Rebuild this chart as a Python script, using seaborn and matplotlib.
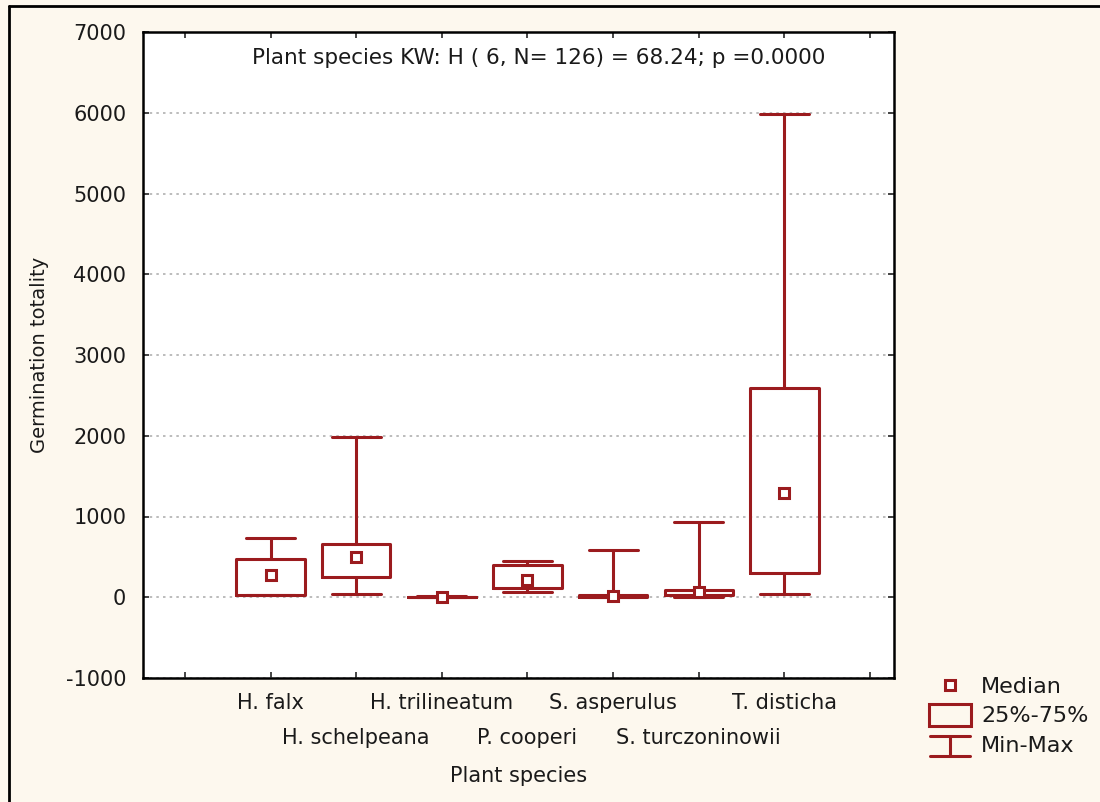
import numpy as np
import pandas as pd
import seaborn as sns
import matplotlib
matplotlib.use("Agg")
import matplotlib.pyplot as plt
from matplotlib.lines import Line2D
from matplotlib.patches import Rectangle
from matplotlib.legend_handler import HandlerBase
from matplotlib.ticker import FixedLocator, FixedFormatter

# ---- data: min, q1, median, q3, max ----
species = ["H. falx", "H. schelpeana", "H. trilineatum", "P. cooperi",
           "S. asperulus", "S. turczoninowii", "T. disticha"]
mins    = [30,   35,   0,   60,  0,   5,   35]
q1s     = [30,   245,  0,   110, 5,   25,  295]
medians = [270,  495,  0,   210, 15,  60,  1290]
q3s     = [470,  655,  5,   395, 30,  95,  2590]
maxs    = [730,  1980, 10,  445, 590, 930, 5985]
yticks = [-1000, 0, 1000, 2000, 3000, 4000, 5000, 6000, 7000]
title = "Plant species KW: H ( 6, N= 126) = 68.24; p =0.0000"
legend_labels = ["Median", "25%-75%", "Min-Max"]

rows = []
for s, a, b, c, d, e in zip(species, mins, q1s, medians, q3s, maxs):
    for v in (a, b, c, d, e):
        rows.append({"species": s, "value": v})
df = pd.DataFrame(rows)

RED = "#9b1b1e"
BG = "#fdf8ee"
TXT = "#1a1a1a"

sns.set_style("white")
plt.rcParams["font.family"] = ["DejaVu Sans"]

fig = plt.figure(figsize=(11, 8.02), dpi=100, facecolor=BG)
ax = fig.add_axes([143/1100, 1 - 678/802, (894-143)/1100, (678-32)/802])
ax.set_facecolor("white")

sns.boxplot(data=df, x="species", y="value", order=species, ax=ax,
            whis=(0, 100), width=0.8, fill=False, color=RED, linewidth=2.2,
            showfliers=False,
            medianprops=dict(linewidth=0, alpha=0),
            capwidths=0.57)

sns.pointplot(data=df, x="species", y="value", order=species, ax=ax,
              estimator="median", errorbar=None, linestyle="none",
              markers="s", color=RED, markersize=7,
              markerfacecolor="white", markeredgecolor=RED,
              markeredgewidth=2.2)

ax.set_ylim(-1000, 7000)
ax.set_xlim(-1.49, 7.28)
ax.set_yticks(yticks)
ax.set_yticklabels([str(t) for t in yticks], fontsize=15, color=TXT)

# staggered x labels: first row on major ticks, second row on minor ticks
major_pos = [-1, 0, 2, 4, 6, 7]
major_lab = ["", species[0], species[2], species[4], species[6], ""]
minor_pos = [1, 3, 5]
minor_lab = [species[1], species[3], species[5]]
ax.xaxis.set_major_locator(FixedLocator(major_pos))
ax.xaxis.set_major_formatter(FixedFormatter(major_lab))
ax.xaxis.set_minor_locator(FixedLocator(minor_pos))
ax.xaxis.set_minor_formatter(FixedFormatter(minor_lab))
ax.tick_params(axis="x", which="both", direction="in", length=4, width=1.2,
               top=True, bottom=True, labelsize=15, labelcolor=TXT)
ax.tick_params(axis="x", which="major", pad=11)
ax.tick_params(axis="x", which="minor", pad=36)
ax.tick_params(axis="y", direction="in", length=4, width=1.2, left=True,
               right=True, pad=12)

ax.yaxis.grid(True, linestyle=(0, (1.5, 2.5)), color="#b0b0b0", linewidth=1.2)
ax.set_axisbelow(True)
for sp in ax.spines.values():
    sp.set_visible(True)
    sp.set_color("black")
    sp.set_linewidth(1.8)

ax.set_xlabel("Plant species", fontsize=15, color=TXT, labelpad=13)
ax.set_ylabel("Germination totality", fontsize=14, color=TXT, labelpad=12)
ax.text(0.527, 0.975, title, transform=ax.transAxes, ha="center", va="top",
        fontsize=15.5, color=TXT)


class MinMaxHandler(HandlerBase):
    def create_artists(self, legend, orig_handle, xdescent, ydescent,
                       width, height, fontsize, trans):
        cx = width / 2 - xdescent
        w = width * 0.95
        y0, y1 = -ydescent - height * 0.3, -ydescent + height * 1.0
        arts = [
            Line2D([cx - w/2, cx + w/2], [y0, y0]),
            Line2D([cx - w/2, cx + w/2], [y1, y1]),
            Line2D([cx, cx], [y0, y1]),
        ]
        for a in arts:
            a.set_color(RED)
            a.set_linewidth(2.2)
            a.set_transform(trans)
        return arts


class BoxHandler(HandlerBase):
    def create_artists(self, legend, orig_handle, xdescent, ydescent,
                       width, height, fontsize, trans):
        r = Rectangle((-xdescent, -ydescent - height * 0.25), width, height * 1.4,
                      fill=False, edgecolor=RED, linewidth=2.2, transform=trans)
        return [r]


class MedHandler(HandlerBase):
    def create_artists(self, legend, orig_handle, xdescent, ydescent,
                       width, height, fontsize, trans):
        l = Line2D([width / 2 - xdescent], [height / 2 - ydescent],
                   marker="s", markersize=7, markerfacecolor="white",
                   markeredgecolor=RED, markeredgewidth=2.2, linestyle="none",
                   transform=trans)
        return [l]


h_med, h_box, h_mm = object(), object(), object()
leg = fig.legend([h_med, h_box, h_mm], legend_labels,
                 handler_map={h_med: MedHandler(), h_box: BoxHandler(),
                              h_mm: MinMaxHandler()},
                 loc="upper left", bbox_to_anchor=(909/1100, 1 - 657/802),
                 frameon=False, fontsize=16, handlelength=1.9,
                 handletextpad=0.45, labelspacing=0.42, labelcolor=TXT)

# figure border (top and left only)
fig.add_artist(Line2D([9/1100, 1], [1 - 6/802, 1 - 6/802],
                      transform=fig.transFigure, color="black", linewidth=2))
fig.add_artist(Line2D([9/1100, 9/1100], [0, 1 - 6/802],
                      transform=fig.transFigure, color="black", linewidth=2))

fig.savefig("out.png", dpi=100, facecolor=BG)
